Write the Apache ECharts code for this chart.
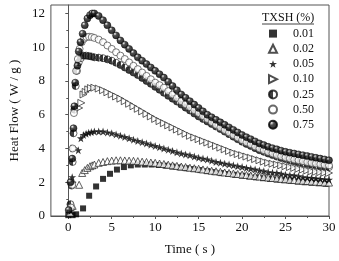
<!DOCTYPE html>
<html>
<head>
<meta charset="utf-8">
<script src="https://cdn.jsdelivr.net/npm/echarts@6/dist/echarts.min.js"></script>
<style>
  html, body { margin: 0; padding: 0; background: #fff; }
  #chart { width: 339px; height: 261px; }
</style>
</head>
<body>
<div id="chart"></div>
<script>
// concentrations shown in the legend
const names = ['0.01', '0.02', '0.05', '0.10', '0.25', '0.50', '0.75'];

const xTicks = [0, 5, 10, 15, 20, 25, 30];
const xMinorTicks = [2.5, 7.5, 12.5, 17.5, 22.5, 27.5];
const yTicks = [0, 2, 4, 6, 8, 10, 12];
const yMinorTicks = [1, 3, 5, 7, 9, 11];

// common time grid for the decaying part of the curves (s)
const tailTime = [3, 3.5, 4, 4.5, 5, 5.5, 6, 6.5, 7, 7.5, 8, 8.5, 9, 9.5, 10, 10.5, 11, 11.5, 12, 12.5,
  13, 13.5, 14, 14.5, 15, 15.5, 16, 16.5, 17, 17.5, 18, 18.5, 19, 19.5, 20, 20.5, 21, 21.5, 22, 22.5,
  23, 23.5, 24, 24.5, 25, 25.5, 26, 26.5, 27, 27.5, 28, 28.5, 29, 29.5, 30];

// 0.01 % : own, sparser sampling [t, W/g]
const pts001 = [[0.0, 0.05], [0.5, 0.05], [0.9, 0.1], [1.7, 0.45], [2.4, 1.2], [3.2, 1.75], [4.0, 2.2],
  [4.8, 2.5], [5.6, 2.75], [6.4, 2.9], [7.2, 3.0], [8.0, 3.05], [8.8, 3.05], [9.6, 3.05], [10.4, 3.02],
  [11.2, 2.98], [12.0, 2.93], [12.8, 2.88], [13.6, 2.83], [14.4, 2.78], [15.2, 2.72], [16.0, 2.66],
  [16.8, 2.6], [17.6, 2.54], [18.4, 2.49], [19.2, 2.44], [20.0, 2.39], [20.8, 2.34], [21.6, 2.29],
  [22.4, 2.24], [23.2, 2.2], [24.0, 2.16], [24.8, 2.12], [25.6, 2.08], [26.4, 2.04], [27.2, 2.0],
  [28.0, 1.97], [28.8, 1.94], [29.6, 1.91]];

// rising part of each curve [t, W/g]
const rise002 = [[0.2, 0.2], [0.5, 0.6], [1.25, 1.85], [1.6, 2.55], [1.9, 2.72], [2.2, 2.85], [2.5, 2.95], [2.75, 3.0]];
const rise005 = [[0.3, 0.3], [0.45, 2.3], [1.15, 3.9], [1.45, 4.6], [1.75, 4.8], [2.05, 4.88], [2.35, 4.93], [2.65, 4.97]];
const rise010 = [[0.3, 0.4], [0.5, 2.0], [0.7, 4.0], [1.25, 6.4], [1.5, 6.7], [1.75, 7.2], [2.0, 7.35], [2.3, 7.5], [2.6, 7.58]];
const rise025 = [[0.25, 0.7], [0.4, 1.8], [0.5, 3.2], [0.6, 4.9], [0.7, 6.3], [0.85, 7.7], [1.0, 8.6], [1.2, 9.1],
  [1.45, 9.35], [1.75, 9.5], [2.05, 9.5], [2.35, 9.48], [2.65, 9.45]];
const rise050 = [[0.3, 0.5], [0.45, 1.85], [0.5, 4.0], [0.65, 6.1], [0.9, 8.6], [1.1, 9.3], [1.3, 9.9], [1.55, 10.3],
  [1.8, 10.5], [2.1, 10.6], [2.4, 10.62], [2.7, 10.6]];
const rise075 = [[0.05, 0.35], [0.25, 2.0], [0.45, 3.4], [0.6, 5.2], [0.7, 6.5], [0.8, 7.9], [1.05, 8.9], [1.2, 9.75],
  [1.4, 10.3], [1.65, 10.8], [1.9, 11.3], [2.2, 11.7], [2.5, 11.9], [2.75, 12.0]];

// decaying part, one value per tailTime entry (W/g)
const tail002 = [3.05, 3.15, 3.2, 3.25, 3.28, 3.3, 3.3, 3.29, 3.28, 3.27, 3.25, 3.22, 3.2, 3.17, 3.15, 3.11, 3.08, 3.04, 3.0, 2.97,
  2.93, 2.9, 2.86, 2.83, 2.8, 2.76, 2.72, 2.68, 2.65, 2.62, 2.58, 2.55, 2.52, 2.49, 2.46, 2.43, 2.4, 2.37, 2.34, 2.31,
  2.28, 2.25, 2.23, 2.2, 2.18, 2.15, 2.13, 2.11, 2.09, 2.07, 2.05, 2.03, 2.01, 1.99, 1.98];
const tail005 = [5.0, 5.0, 5.0, 4.95, 4.9, 4.83, 4.75, 4.68, 4.6, 4.52, 4.45, 4.37, 4.3, 4.22, 4.15, 4.07, 4.0, 3.92, 3.85, 3.77,
  3.7, 3.65, 3.6, 3.52, 3.45, 3.4, 3.35, 3.27, 3.2, 3.15, 3.1, 3.05, 3.0, 2.95, 2.9, 2.85, 2.8, 2.75, 2.7, 2.65,
  2.6, 2.57, 2.55, 2.5, 2.45, 2.42, 2.4, 2.35, 2.3, 2.27, 2.25, 2.22, 2.2, 2.17, 2.15];
const tail010 = [7.6, 7.55, 7.45, 7.33, 7.2, 7.08, 6.95, 6.8, 6.65, 6.5, 6.35, 6.2, 6.05, 5.9, 5.75, 5.62, 5.5, 5.37, 5.25, 5.12,
  5.0, 4.87, 4.75, 4.65, 4.55, 4.45, 4.35, 4.25, 4.15, 4.05, 3.95, 3.85, 3.75, 3.67, 3.6, 3.52, 3.45, 3.37, 3.3, 3.22,
  3.15, 3.1, 3.05, 3.0, 2.95, 2.9, 2.85, 2.8, 2.75, 2.7, 2.65, 2.62, 2.6, 2.57, 2.55];
const tail025 = [9.4, 9.38, 9.35, 9.28, 9.2, 9.08, 8.95, 8.8, 8.65, 8.5, 8.35, 8.18, 8.0, 7.83, 7.65, 7.48, 7.3, 7.12, 6.95, 6.78,
  6.6, 6.42, 6.25, 6.07, 5.9, 5.75, 5.6, 5.45, 5.3, 5.15, 5.0, 4.85, 4.7, 4.55, 4.4, 4.27, 4.15, 4.02, 3.9, 3.8,
  3.7, 3.61, 3.52, 3.44, 3.37, 3.3, 3.24, 3.18, 3.13, 3.08, 3.04, 3.0, 2.96, 2.93, 2.9];
const tail050 = [10.55, 10.45, 10.3, 10.1, 9.9, 9.7, 9.5, 9.3, 9.1, 8.9, 8.7, 8.5, 8.3, 8.1, 7.9, 7.75, 7.6, 7.4, 7.2, 7.0,
  6.8, 6.62, 6.45, 6.27, 6.1, 5.92, 5.75, 5.57, 5.4, 5.25, 5.1, 4.95, 4.8, 4.65, 4.5, 4.37, 4.25, 4.12, 4.0, 3.9,
  3.8, 3.71, 3.62, 3.54, 3.47, 3.41, 3.35, 3.3, 3.25, 3.2, 3.15, 3.11, 3.07, 3.03, 3.0];
const tail075 = [12.0, 11.85, 11.6, 11.3, 11.0, 10.7, 10.4, 10.15, 9.9, 9.65, 9.4, 9.2, 9.0, 8.8, 8.6, 8.4, 8.2, 7.95, 7.7, 7.45,
  7.2, 7.0, 6.8, 6.6, 6.4, 6.2, 6.0, 5.85, 5.7, 5.55, 5.4, 5.25, 5.1, 4.95, 4.8, 4.67, 4.55, 4.42, 4.3, 4.2,
  4.1, 4.02, 3.95, 3.87, 3.8, 3.75, 3.7, 3.65, 3.6, 3.55, 3.5, 3.45, 3.4, 3.35, 3.3];

const curve = (rise, tail) => rise.concat(tailTime.map((t, i) => [t, tail[i]]));

const chart = echarts.init(document.getElementById('chart'), null, { renderer: 'canvas' });

const font = 'Liberation Serif';
const starPath = 'path://M50,2 L61,36 L97,36 L68,57 L79,92 L50,70 L21,92 L32,57 L3,36 L39,36 Z';
const rightTri = 'path://M0,0 L10,5 L0,10 Z';

const halfFill = new echarts.graphic.LinearGradient(0, 0, 1, 0, [
  { offset: 0, color: '#111' }, { offset: 0.55, color: '#111' },
  { offset: 0.55, color: '#fff' }, { offset: 1, color: '#fff' }
]);
const sphereFill = new echarts.graphic.RadialGradient(0.35, 0.3, 0.6, [
  { offset: 0, color: '#fff' }, { offset: 0.15, color: '#aaa' }, { offset: 0.4, color: '#222' }, { offset: 1, color: '#000' }
]);

const styles = [
  { symbol: 'rect', symbolSize: 6, itemStyle: { color: '#000' } },
  { symbol: 'triangle', symbolSize: 7, itemStyle: { color: '#fff', borderColor: '#222', borderWidth: 0.9 } },
  { symbol: starPath, symbolSize: 8, itemStyle: { color: '#000' } },
  { symbol: rightTri, symbolSize: 7, itemStyle: { color: '#fff', borderColor: '#222', borderWidth: 0.9 } },
  { symbol: 'circle', symbolSize: 7, itemStyle: { color: halfFill, borderColor: '#111', borderWidth: 0.8 } },
  { symbol: 'circle', symbolSize: 7, itemStyle: { color: '#fff', borderColor: '#444', borderWidth: 0.9 } },
  { symbol: 'circle', symbolSize: 7, itemStyle: { color: sphereFill, borderColor: '#000', borderWidth: 0.6 } }
];

const datasets = [
  pts001,
  curve(rise002, tail002),
  curve(rise005, tail005),
  curve(rise010, tail010),
  curve(rise025, tail025),
  curve(rise050, tail050),
  curve(rise075, tail075)
];

const axisColor = '#555';

chart.setOption({
  animation: false,
  backgroundColor: '#fff',
  grid: {
    left: 38, right: 10, top: 5, bottom: 38,
    show: true, borderColor: axisColor, borderWidth: 1, backgroundColor: 'transparent'
  },
  title: {
    text: 'TXSH (%)',
    left: 262, top: 12, padding: 0,
    textStyle: { fontFamily: font, fontSize: 12, fontWeight: 'normal', color: '#111' }
  },
  graphic: [{
    type: 'line',
    shape: { x1: 262, y1: 24, x2: 314, y2: 24 },
    style: { stroke: '#111', lineWidth: 0.8 }
  }],
  legend: {
    data: names,
    orient: 'vertical',
    left: 268, top: 26, padding: 0,
    itemWidth: 8, itemHeight: 8, itemGap: 0,
    textStyle: { fontFamily: font, fontSize: 12, color: '#111', lineHeight: 15.2, padding: [0, 0, 0, 11] }
  },
  xAxis: [{
    type: 'value', min: -2, max: 30,
    name: 'Time ( s )', nameLocation: 'middle', nameGap: 27,
    nameTextStyle: { fontFamily: font, fontSize: 13, color: '#111' },
    axisLine: { show: true, lineStyle: { color: axisColor, width: 1 } },
    axisTick: { show: true, length: 3, customValues: xTicks, lineStyle: { color: axisColor } },
    axisLabel: { customValues: xTicks, fontFamily: font, fontSize: 13, color: '#111', margin: 5 },
    splitLine: { show: false }
  }, {
    type: 'value', min: -2, max: 30, position: 'bottom',
    axisLine: { show: false },
    axisTick: { show: true, length: 2, customValues: xMinorTicks, lineStyle: { color: axisColor } },
    axisLabel: { show: false },
    splitLine: { show: false }
  }],
  yAxis: [{
    type: 'value', min: 0, max: 12.5,
    name: 'Heat Flow ( W / g )', nameLocation: 'middle', nameGap: 26,
    nameTextStyle: { fontFamily: font, fontSize: 13, color: '#111' },
    axisLine: { show: true, lineStyle: { color: axisColor, width: 1 } },
    axisTick: { show: true, length: 3, customValues: yTicks, lineStyle: { color: axisColor } },
    axisLabel: { customValues: yTicks, fontFamily: font, fontSize: 13, color: '#111', margin: 6 },
    splitLine: { show: false }
  }, {
    type: 'value', min: 0, max: 12.5, position: 'left',
    axisLine: { show: false },
    axisTick: { show: true, length: 2, customValues: yMinorTicks, lineStyle: { color: axisColor } },
    axisLabel: { show: false },
    splitLine: { show: false }
  }],
  series: names.map((n, i) => Object.assign({
    name: n,
    type: 'scatter',
    xAxisIndex: 0,
    yAxisIndex: 0,
    data: datasets[i],
    clip: false
  }, styles[i]))
});
</script>
</body>
</html>
